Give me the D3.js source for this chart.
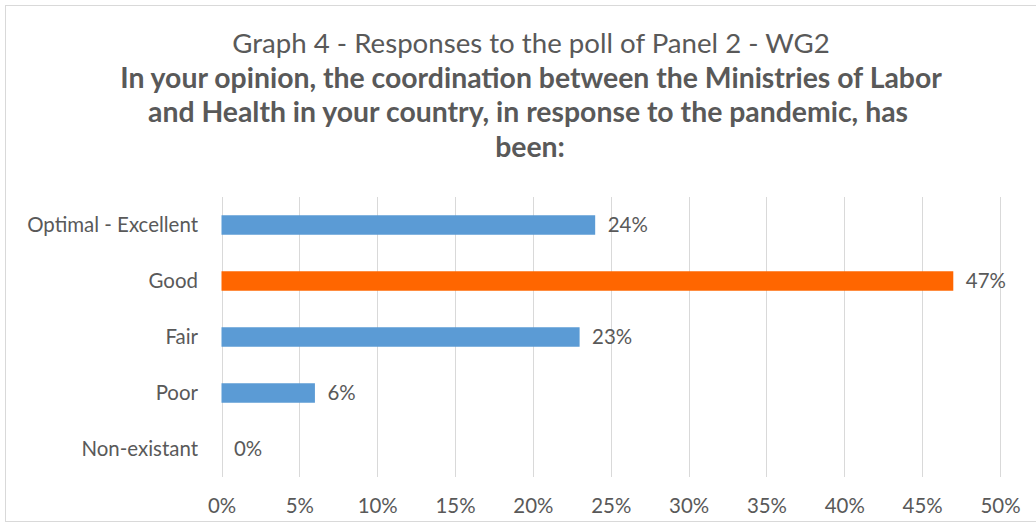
<!DOCTYPE html>
<html>
<head>
<meta charset="utf-8">
<script src="https://cdn.jsdelivr.net/npm/d3@7"></script>
<style>
  html, body { margin: 0; padding: 0; background: #ffffff; }
  svg { display: block; }
  text { font-family: Lato, "Open Sans", "DejaVu Sans", sans-serif; fill: #595959; }
</style>
</head>
<body>
<svg id="chart" width="1036" height="529"></svg>
<script>
// ---- data ----
const categories = ["Optimal - Excellent", "Good", "Fair", "Poor", "Non-existant"];
const values = [0.24, 0.47, 0.23, 0.06, 0.00];
const highlight = ["Good"];
const xTicks = [0, 0.05, 0.10, 0.15, 0.20, 0.25, 0.30, 0.35, 0.40, 0.45, 0.50];
const titleLines = [
  "Graph 4 - Responses to the poll of Panel 2 - WG2",
  "In your opinion, the coordination between the Ministries of Labor",
  "and Health in your country, in response to the pandemic, has",
  "been:"
];

const svg = d3.select("#chart");
const W = 1036, H = 529;

// chart border
svg.append("rect")
  .attr("x", 5.5).attr("y", 5.5)
  .attr("width", 1040).attr("height", 516)
  .attr("fill", "#fff").attr("stroke", "#d9d9d9").attr("stroke-width", 1);

// helper: fit font size of a text element to a target width
function fitSize(sel, target, base) {
  sel.style("font-size", base + "px");
  const len = sel.node().getComputedTextLength();
  const fs = base * target / len;
  sel.style("font-size", fs + "px");
  return fs;
}

// ---- title ----
const cx = 531;
const t1 = svg.append("text").attr("x", cx).attr("y", 53)
  .attr("text-anchor", "middle").text(titleLines[0]);
fitSize(t1, 598, 24);
const t2 = svg.append("text").attr("x", cx).attr("y", 87.5)
  .attr("text-anchor", "middle").style("font-weight", "bold").text(titleLines[1]);
const boldFs = fitSize(t2, 822, 24);
svg.append("text").attr("x", cx - 3).attr("y", 122)
  .attr("text-anchor", "middle").style("font-weight", "bold")
  .style("font-size", boldFs + "px").text(titleLines[2]);
svg.append("text").attr("x", cx - 1).attr("y", 156.5)
  .attr("text-anchor", "middle").style("font-weight", "bold")
  .style("font-size", boldFs + "px").text(titleLines[3]);

// ---- scales ----
const x = d3.scaleLinear().domain([0, 0.5]).range([221.5, 1000]);
const y = d3.scaleBand().domain(categories).range([197, 477])
  .paddingInner(0.652).paddingOuter(0.326);

// label font size fitted to category label width
const probe = svg.append("text").text(categories[0]);
const labelFs = fitSize(probe, 171, 16);
probe.remove();

// gridlines
svg.append("g").selectAll("line").data(xTicks).join("line")
  .attr("x1", d => Math.round(x(d)) + 0.5).attr("x2", d => Math.round(x(d)) + 0.5)
  .attr("y1", 197).attr("y2", 477)
  .attr("stroke", "#d9d9d9").attr("stroke-width", 1);

// x axis tick labels
const xAxis = d3.axisBottom(x).tickValues(xTicks).tickFormat(d3.format(".0%"))
  .tickSize(0).tickPadding(0);
const gx = svg.append("g").attr("transform", "translate(0,497)").call(xAxis);
gx.select(".domain").remove();
gx.selectAll("text").attr("dy", "0.8em")
  .style("font-size", labelFs + "px").style("fill", "#595959")
  .style("font-family", 'Lato, "Open Sans", "DejaVu Sans", sans-serif');

// y axis labels
const yAxis = d3.axisLeft(y).tickSize(0).tickPadding(0);
const gy = svg.append("g").attr("transform", "translate(198,0)").call(yAxis);
gy.select(".domain").remove();
gy.selectAll("text")
  .style("font-size", labelFs + "px").style("fill", "#595959")
  .style("font-family", 'Lato, "Open Sans", "DejaVu Sans", sans-serif');

// bars
const data = categories.map((c, i) => ({ c, v: values[i] }));
svg.append("g").selectAll("rect").data(data).join("rect")
  .attr("x", x(0))
  .attr("y", d => y(d.c))
  .attr("width", d => x(d.v) - x(0))
  .attr("height", y.bandwidth())
  .attr("fill", d => highlight.includes(d.c) ? "#ff6600" : "#5b9bd5");

// data labels
svg.append("g").selectAll("text").data(data).join("text")
  .attr("x", d => x(d.v) + 12.5)
  .attr("y", d => y(d.c) + y.bandwidth() / 2)
  .attr("dy", "0.35em")
  .style("font-size", labelFs + "px")
  .text(d => d3.format(".0%")(d.v));
</script>
</body>
</html>
